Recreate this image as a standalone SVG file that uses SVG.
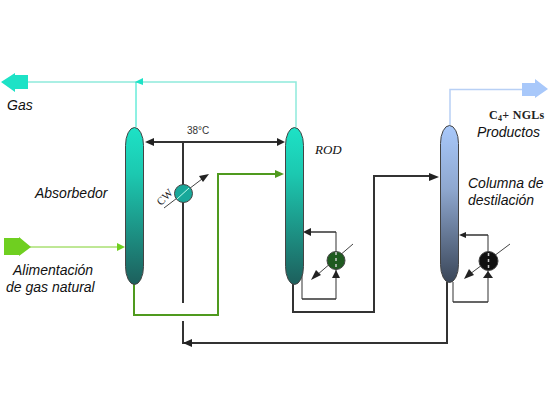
<svg xmlns="http://www.w3.org/2000/svg" width="550" height="400" viewBox="0 0 550 400">
<style>
.t{font-family:"Liberation Sans",Arial,sans-serif;font-size:14px;font-style:italic;fill:#111}
.s{font-family:"Liberation Serif","Times New Roman",serif;fill:#222}
.c{fill:none;stroke:#333;stroke-width:2}
.n{fill:none;stroke:#777;stroke-width:1.5}
.d{fill:none;stroke:#333;stroke-width:1.5}
.h{fill:#222;stroke:none}
.thin{stroke:#444;stroke-width:1;fill:none}
.col{stroke:#444;stroke-width:1}
</style>
<defs>
<linearGradient id="g1" x1="0" y1="0" x2="0" y2="1"><stop offset="0" stop-color="#1de2c6"/><stop offset=".3" stop-color="#1cc8b0"/><stop offset="1" stop-color="#1d5f5c"/></linearGradient>
<linearGradient id="g2" x1="0" y1="0" x2="0" y2="1"><stop offset="0" stop-color="#a8c8fa"/><stop offset=".4" stop-color="#8fa8d0"/><stop offset="1" stop-color="#3a4658"/></linearGradient>
</defs>
<rect width="550" height="400" fill="#fff"/>
<g id="connectors">
<path d="M28 82H296V127" fill="none" stroke="#8eeadc" stroke-width="1.5"/>
<path d="M136 127V82" fill="none" stroke="#1de2c6" stroke-width="1"/>
<path d="M135 82l8-4v7z" fill="#1de2c6"/>
<path d="M450 125V89.500H525" fill="none" stroke="#b8d0f5" stroke-width="1.500"/>
<path d="M30 247H120" fill="none" stroke="#7ed02c" stroke-width="1"/>
<path d="M125 247l-8-4v8z" fill="#6fcf20"/>
<path d="M134 284V315H218V174H277" fill="none" stroke="#4f9a1e" stroke-width="2"/>
<path d="M284 174l-9-4v8z" fill="#4f9a1e"/>
<path class="c" d="M278 142H154"/>
<path class="h" d="M145 142l9-4v8z"/>
<path class="h" d="M285 142l-8-4v8z"/>
<path class="c" d="M183 142V303"/>
<path class="c" d="M183 321V343H447V282"/>
<path class="h" d="M183 343l9-4v8z"/>
<path class="c" d="M293 284V312H374V176H432"/>
<path class="h" d="M439 177l-10-4v8z"/>
<path class="n" d="M302 270V299M336 299V232"/>
<path class="d" d="M302 299H336M336 232H310"/>
<path class="h" d="M303 232l8-4v8z"/>
<path class="h" d="M336 270l-4 8h8z"/>
<path class="n" d="M453 282V302M488 302V235"/>
<path class="d" d="M453 302H488M488 235H465"/>
<path class="h" d="M459 235l7-3v6z"/>
<path class="h" d="M488 271l-5 7h10z"/>
</g>
<g id="gas-out"><path d="M1 82l14-9v2H28v14H15v3z" fill="#1de2c6"/></g>
<g id="feed-in"><path d="M4 238H19V237L31 247 19 256V255H4z" fill="#6fcf20"/></g>
<g id="product-out"><path d="M522 83H535V79L548 89 535 98V96H522z" fill="#a8c8fa"/></g>
<g id="absorbedor">
<rect class="col" x="125.500" y="127.500" width="18" height="157" rx="9" ry="18" fill="url(#g1)"/>
<text class="t" x="35" y="198">Absorbedor</text>
</g>
<g id="rod">
<rect class="col" x="285.500" y="127.500" width="18" height="157" rx="9" ry="18" fill="url(#g1)"/>
<text class="s" x="315" y="154" font-size="13" font-style="italic" style="fill:#111">ROD</text>
</g>
<g id="columna">
<rect class="col" x="440.500" y="125.500" width="18" height="157" rx="9" ry="18" fill="url(#g2)"/>
<text class="t" x="468" y="188">Columna de</text>
<text class="t" x="468" y="205">destilación</text>
</g>
<g id="cooler">
<path class="thin" d="M164 208L202 179"/>
<path class="h" d="M209 174l-10 2 4 6z"/>
<circle cx="183.500" cy="193.500" r="9" fill="#18a89a" stroke="#444"/>
<path d="M177 199L189 188" stroke="#bfe" stroke-width="1"/>
<text class="s" font-size="11" transform="translate(161,206) rotate(-45)">CW</text>
<text x="187" y="134" font-family="Liberation Sans,Arial,sans-serif" font-size="10" fill="#333">38°C</text>
</g>
<g id="reboiler-rod">
<path class="thin" d="M353 244L317 275"/>
<path class="h" d="M311 280l10-5-5-5z"/>
<circle cx="336" cy="260.500" r="9" fill="#1f5a20" stroke="#444"/>
<path d="M336 252V269" stroke="#ccc" stroke-width="1.500" stroke-dasharray="3 3"/>
</g>
<g id="reboiler-col">
<path class="thin" d="M510 244L470 274"/>
<path class="h" d="M464 279l10-4-5-6z"/>
<circle cx="488.500" cy="261" r="9.500" fill="#111" stroke="#444"/>
<path d="M488.500 253V269" stroke="#ccc" stroke-width="1.500" stroke-dasharray="3 3"/>
</g>
<g id="labels">
<text class="t" x="7" y="110">Gas</text>
<text class="t" x="13" y="275">Alimentación</text>
<text class="t" x="6" y="292">de gas natural</text>
<text class="t" x="477" y="137">Productos</text>
<text class="s" x="489" y="119" font-size="12" font-weight="bold" letter-spacing=".3">C<tspan font-size="8" dy="2">4</tspan><tspan dy="-2">+ NGLs</tspan></text>
</g>
</svg>
